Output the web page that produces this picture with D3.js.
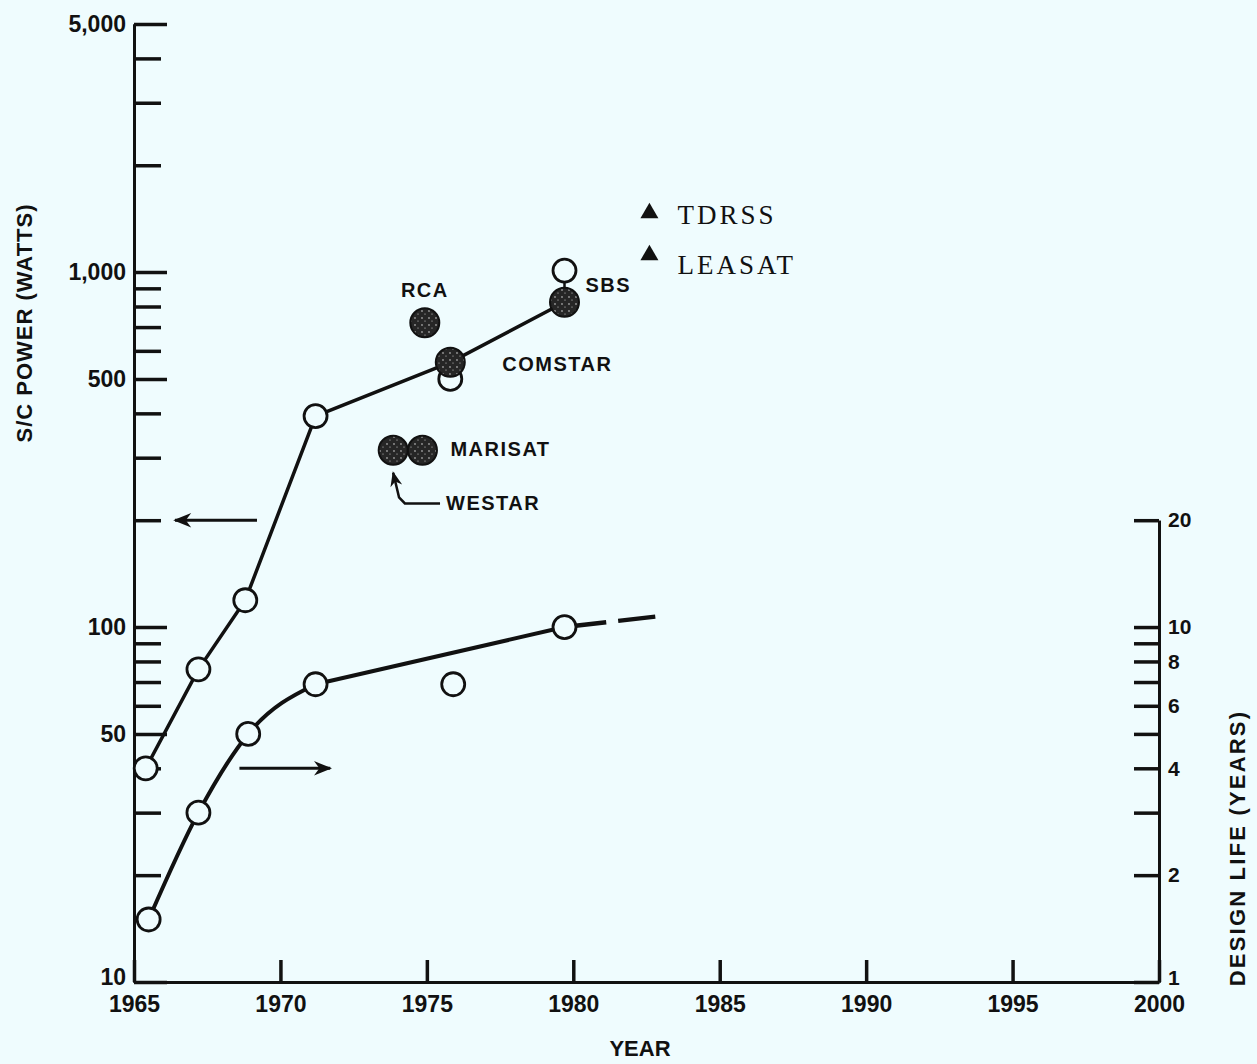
<!DOCTYPE html>
<html>
<head>
<meta charset="utf-8">
<script src="https://cdn.jsdelivr.net/npm/d3@7"></script>
<style>
  body { margin: 0; background: #effcfe; }
  svg { display: block; }
  text { font-family: "Liberation Sans", Arial, sans-serif; font-weight: bold; fill: #111; }
  .mono { font-family: "Liberation Serif", "Times New Roman", serif; font-weight: normal; }
</style>
</head>
<body>
<div class="chart"></div>
<script>
var width = 1257;
var height = 1064;

// axis ticks
var years = [1965, 1970, 1975, 1980, 1985, 1990, 1995, 2000];
var powerTicks = [10, 50, 100, 500, 1000, 5000];
var powerMinor = [20, 30, 40, 60, 70, 80, 90, 200, 300, 400, 600, 700, 800, 900, 2000, 3000, 4000];
var lifeTicks = [1, 2, 4, 6, 8, 10, 20];
var lifeMinor = [3, 5, 7, 9];

// S/C power trend (left axis)
var powerTrend = [
  { year: 1965.4, watts: 40 },
  { year: 1967.2, watts: 76 },
  { year: 1968.8, watts: 119 },
  { year: 1971.2, watts: 393 },
  { year: 1975.8, watts: 557 },
  { year: 1979.7, watts: 822 }
];
var powerOpen = [
  { year: 1975.8, watts: 500 },
  { year: 1979.7, watts: 1010 }
];

// satellites (filled dots)
var satellites = [
  { name: 'RCA', year: 1974.93, watts: 720 },
  { name: 'COMSTAR', year: 1975.8, watts: 557 },
  { name: 'SBS', year: 1979.7, watts: 822 },
  { name: 'WESTAR', year: 1973.85, watts: 315 },
  { name: 'MARISAT', year: 1974.85, watts: 315 }
];
var planned = [
  { name: 'TDRSS', year: 1982.6, watts: 1466 },
  { name: 'LEASAT', year: 1982.6, watts: 1117 }
];

// design life trend (right axis)
var lifeEarly = [
  { year: 1965.5, life: 1.5 },
  { year: 1967.2, life: 3 },
  { year: 1968.9, life: 5 },
  { year: 1971.2, life: 6.9 }
];
var lifeLate = [
  { year: 1971.2, life: 6.9 },
  { year: 1979.7, life: 10 }
];
var lifeProjection = [
  { year: 1979.7, life: 10 },
  { year: 1982.8, life: 10.7 }
];
var lifeExtra = [{ year: 1975.9, life: 6.9 }];

var svg = d3.select('.chart')
  .append('svg')
    .attr('width', width)
    .attr('height', height);

svg.append('rect').attr('width', width).attr('height', height).attr('fill', '#effcfe');

var x = d3.scaleLinear().domain([1965, 2000]).range([134, 1159]);
var yPower = d3.scaleLog().domain([10, 5000]).range([982, 24]);
var yLife = d3.scaleLog().domain([1, 20]).range([982, yPower(200)]);

var defs = svg.append('defs');
var pat = defs.append('pattern')
  .attr('id', 'speckle')
  .attr('width', 7).attr('height', 7)
  .attr('patternUnits', 'userSpaceOnUse');
pat.append('rect').attr('width', 7).attr('height', 7).attr('fill', '#262626');
pat.append('circle').attr('cx', 2).attr('cy', 3).attr('r', 0.9).attr('fill', '#9a9a9a');
pat.append('circle').attr('cx', 5).attr('cy', 6).attr('r', 0.6).attr('fill', '#cfcfcf');

defs.append('marker')
  .attr('id', 'head')
  .attr('viewBox', '0 0 10 10')
  .attr('refX', 9).attr('refY', 5)
  .attr('markerWidth', 7).attr('markerHeight', 6)
  .attr('orient', 'auto-start-reverse')
  .append('path')
    .attr('d', 'M0,1 L10,5 L0,9 L3,5 Z')
    .attr('fill', '#111');

function styleAxis(g, size, lowest) {
  g.attr('font-family', null).attr('font-size', null);
  g.select('.domain').attr('stroke', '#111').attr('stroke-width', 3);
  g.selectAll('.tick line').attr('stroke', '#111').attr('stroke-width', 3.5);
  g.selectAll('.tick text').style('font-size', size + 'px').attr('fill', '#111');
  // lift the corner label so it clears the year labels
  if (lowest !== undefined) g.selectAll('.tick text').filter(d => d === lowest).attr('dy', '0.12em');
}

// x axis
svg.append('g')
    .attr('transform', `translate(0, ${yPower(10)})`)
  .call(d3.axisBottom(x)
    .tickValues(years)
    .tickFormat(d3.format('d'))
    .tickSizeInner(-22)
    .tickSizeOuter(0)
    .tickPadding(14))
  .call(g => styleAxis(g, 23));

// left axis (power)
svg.append('g')
    .attr('transform', `translate(${x(1965)}, 0)`)
  .call(d3.axisLeft(yPower)
    .tickValues(powerMinor)
    .tickFormat('')
    .tickSizeInner(-27)
    .tickSizeOuter(0))
  .call(g => styleAxis(g, 23));

svg.append('g')
    .attr('transform', `translate(${x(1965)}, 0)`)
  .call(d3.axisLeft(yPower)
    .tickValues(powerTicks)
    .tickFormat(d3.format(','))
    .tickSizeInner(-33)
    .tickSizeOuter(0)
    .tickPadding(8))
  .call(g => styleAxis(g, 23, 10));

// right axis (design life)
svg.append('g')
    .attr('transform', `translate(${x(2000)}, 0)`)
  .call(d3.axisRight(yLife)
    .tickValues(lifeMinor)
    .tickFormat('')
    .tickSizeInner(-25)
    .tickSizeOuter(0))
  .call(g => styleAxis(g, 21));

svg.append('g')
    .attr('transform', `translate(${x(2000)}, 0)`)
  .call(d3.axisRight(yLife)
    .tickValues(lifeTicks)
    .tickFormat(d3.format('d'))
    .tickSizeInner(-25)
    .tickSizeOuter(0)
    .tickPadding(9))
  .call(g => styleAxis(g, 21, 1));

// axis titles
svg.append('text')
  .attr('transform', 'translate(24, 323) rotate(-90)')
  .attr('text-anchor', 'middle')
  .attr('dy', '0.35em')
  .style('font-size', '22px')
  .style('letter-spacing', '1px')
  .text('S/C POWER (WATTS)');

svg.append('text')
  .attr('transform', 'translate(1237, 848) rotate(-90)')
  .attr('text-anchor', 'middle')
  .attr('dy', '0.35em')
  .style('font-size', '22px')
  .style('letter-spacing', '2.2px')
  .text('DESIGN LIFE (YEARS)');

svg.append('text')
  .attr('x', 640).attr('y', 1048)
  .attr('text-anchor', 'middle')
  .attr('dy', '0.35em')
  .style('font-size', '22px')
  .text('YEAR');

// trend lines
var powerLine = d3.line()
  .x(d => x(d.year))
  .y(d => yPower(d.watts));

var lifeCurve = d3.line()
  .x(d => x(d.year))
  .y(d => yLife(d.life))
  .curve(d3.curveMonotoneX);

var lifeStraight = d3.line()
  .x(d => x(d.year))
  .y(d => yLife(d.life));

svg.append('path')
  .datum(powerTrend)
  .attr('d', powerLine)
  .attr('fill', 'none')
  .attr('stroke', '#111')
  .attr('stroke-width', 3.5);

svg.append('path')
  .datum(lifeEarly)
  .attr('d', lifeCurve)
  .attr('fill', 'none')
  .attr('stroke', '#111')
  .attr('stroke-width', 4);

svg.append('path')
  .datum(lifeLate)
  .attr('d', lifeStraight)
  .attr('fill', 'none')
  .attr('stroke', '#111')
  .attr('stroke-width', 4);

svg.append('path')
  .datum(lifeProjection)
  .attr('d', lifeStraight)
  .attr('fill', 'none')
  .attr('stroke', '#111')
  .attr('stroke-width', 4.5)
  .attr('stroke-dasharray', '42,12,40,200');

// stem between SBS measurements
svg.append('line')
  .attr('x1', x(1979.7)).attr('x2', x(1979.7))
  .attr('y1', yPower(822)).attr('y2', yPower(1010))
  .attr('stroke', '#111').attr('stroke-width', 2.5);

// arrows pointing to each axis
var arrows = [
  { x1: 1969.2, x2: 1966.4, y: yPower(200) },
  { x1: 1968.6, x2: 1971.7, y: yLife(4) }
];
svg.selectAll('.arrow')
  .data(arrows)
  .enter()
  .append('line')
    .attr('x1', d => x(d.x1)).attr('x2', d => x(d.x2))
    .attr('y1', d => d.y).attr('y2', d => d.y)
    .attr('stroke', '#111')
    .attr('stroke-width', 3)
    .attr('marker-end', 'url(#head)');

// WESTAR callout
var callout = [[1973.85, 272], [1974.05, 232], [1974.25, 223], [1975.45, 223]];
svg.append('path')
  .datum(callout)
  .attr('d', d3.line().x(d => x(d[0])).y(d => yPower(d[1])))
  .attr('fill', 'none')
  .attr('stroke', '#111')
  .attr('stroke-width', 2.5)
  .attr('marker-start', 'url(#head)');

// open circles
var openPts = powerTrend.slice(0, 4).map(d => [x(d.year), yPower(d.watts)])
  .concat(powerOpen.map(d => [x(d.year), yPower(d.watts)]))
  .concat(lifeEarly.map(d => [x(d.year), yLife(d.life)]))
  .concat(lifeLate.slice(1).map(d => [x(d.year), yLife(d.life)]))
  .concat(lifeExtra.map(d => [x(d.year), yLife(d.life)]));

svg.selectAll('.open')
  .data(openPts)
  .enter()
  .append('circle')
    .attr('cx', d => d[0])
    .attr('cy', d => d[1])
    .attr('r', 11.5)
    .attr('fill', '#effcfe')
    .attr('stroke', '#111')
    .attr('stroke-width', 2.8);

// filled satellites
svg.selectAll('.sat')
  .data(satellites)
  .enter()
  .append('circle')
    .attr('cx', d => x(d.year))
    .attr('cy', d => yPower(d.watts))
    .attr('r', 14.5)
    .attr('fill', 'url(#speckle)')
    .attr('stroke', '#111')
    .attr('stroke-width', 2);

var satLabels = { RCA: [0, -33, 'middle'], COMSTAR: [52, 2, 'start'], SBS: [21, -17, 'start'],
  MARISAT: [28, -1, 'start'], WESTAR: [x(1975.45) - x(1973.85) + 6, yPower(223) - yPower(315), 'start'] };

svg.selectAll('.satlabel')
  .data(satellites)
  .enter()
  .append('text')
    .attr('x', d => x(d.year) + satLabels[d.name][0])
    .attr('y', d => yPower(d.watts) + satLabels[d.name][1])
    .attr('dy', '0.35em')
    .attr('text-anchor', d => satLabels[d.name][2])
    .style('font-size', '20px')
    .style('letter-spacing', '1.5px')
    .text(d => d.name);

// planned spacecraft
svg.selectAll('.planned')
  .data(planned)
  .enter()
  .append('path')
    .attr('transform', d => `translate(${x(d.year)}, ${yPower(d.watts)})`)
    .attr('d', d3.symbol(d3.symbolTriangle).size(140))
    .attr('fill', '#111');

svg.selectAll('.plannedlabel')
  .data(planned)
  .enter()
  .append('text')
    .attr('class', 'mono')
    .attr('x', d => x(d.year) + 28)
    .attr('y', (d, i) => yPower(d.watts) + (i === 0 ? 1 : 10))
    .attr('dy', '0.35em')
    .style('font-size', '27px')
    .style('letter-spacing', '3px')
    .text(d => d.name);
</script>
</body>
</html>
